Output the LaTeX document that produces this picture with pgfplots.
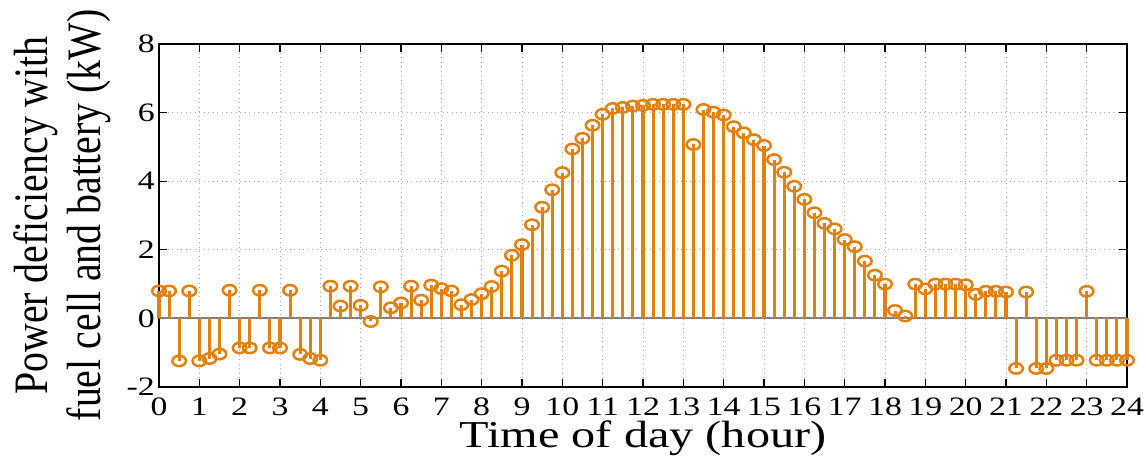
\documentclass[border=0pt]{standalone}
\usepackage{fontspec}
\setmainfont[FakeStretch=1.27]{Liberation Serif}
\newfontfamily\ylabfont[FakeStretch=0.83]{Liberation Serif}
\usepackage{pgfplots}
\usepackage{pgfplotstable}
\pgfplotsset{compat=1.18}
\definecolor{stemorange}{RGB}{225,128,10}
\pgfplotstableread{
t v
0 0.80
0.25 0.80
0.5 -1.24
0.75 0.80
1 -1.24
1.25 -1.17
1.5 -1.04
1.75 0.82
2 -0.86
2.25 -0.86
2.5 0.82
2.75 -0.86
3 -0.86
3.25 0.82
3.5 -1.05
3.75 -1.17
4 -1.22
4.25 0.94
4.5 0.36
4.75 0.94
5 0.38
5.25 -0.09
5.5 0.92
5.75 0.31
6 0.45
6.25 0.94
6.5 0.53
6.75 0.97
7 0.87
7.25 0.80
7.5 0.40
7.75 0.55
8 0.72
8.25 0.93
8.5 1.38
8.75 1.84
9 2.15
9.25 2.73
9.5 3.24
9.75 3.75
10 4.25
10.25 4.94
10.5 5.25
10.75 5.63
11 5.95
11.25 6.12
11.5 6.15
11.75 6.19
12 6.21
12.25 6.24
12.5 6.24
12.75 6.24
13 6.24
13.25 5.07
13.5 6.09
13.75 6.01
14 5.93
14.25 5.59
14.5 5.41
14.75 5.21
15 5.04
15.25 4.63
15.5 4.26
15.75 3.85
16 3.47
16.25 3.08
16.5 2.77
16.75 2.61
17 2.30
17.25 2.09
17.5 1.67
17.75 1.26
18 1.00
18.25 0.23
18.5 0.07
18.75 1.00
19 0.86
19.25 1.00
19.5 1.00
19.75 1.00
20 0.98
20.25 0.70
20.5 0.79
20.75 0.79
21 0.77
21.25 -1.46
21.5 0.77
21.75 -1.46
22 -1.46
22.25 -1.22
22.5 -1.22
22.75 -1.22
23 0.79
23.25 -1.22
23.5 -1.22
23.75 -1.22
24 -1.22
}\stemdata
\begin{document}
\begin{tikzpicture}
\begin{axis}[
  width=968pt, height=343pt, scale only axis,
  xmin=0, xmax=24, ymin=-2, ymax=8,
  xtick={0,1,...,24}, ytick={-2,0,2,4,6,8},
  tick align=inside, major tick length=8pt,
  every tick/.style={black, line width=1.2pt},
  axis line style={black, line width=1.6pt},
  grid=major,
  grid style={gray!70, line width=1pt, dash pattern=on 1pt off 3.5pt},
  tick label style={font=\fontsize{26.6}{30}\selectfont, inner sep=0pt},
  /pgf/number format/assume math mode=true,
  xticklabel shift=11pt, yticklabel shift=4pt,
  xlabel={Time of day (hour)},
  xlabel style={font=\fontsize{38}{44}\selectfont, at={(axis description cs:0.5,-0.177)}, anchor=base, inner sep=0pt},
  ylabel={Power deficiency with\\fuel cell and battery (kW)},
  ylabel style={font=\ylabfont\fontsize{48}{53}\selectfont, align=center, at={(axis description cs:-0.0496,0.5)}, anchor=south, inner sep=0pt},
  clip=false,
]
\addplot[gray, line width=2pt, forget plot] coordinates {(0,0) (24,0)};
\addplot[ycomb, stemorange, line width=3.1pt, mark=o,
  mark options={solid, line width=2.5pt, xscale=1.3}, mark size=5.2pt]
  table[x=t, y=v] {\stemdata};
\coordinate (sw) at (rel axis cs:0,0);
\coordinate (ne) at (rel axis cs:1,1);
\end{axis}
\pgfresetboundingbox
\path ([shift={(-159pt,-68pt)}]sw) rectangle ([shift={(20pt,44pt)}]ne);
\end{tikzpicture}
\end{document}
